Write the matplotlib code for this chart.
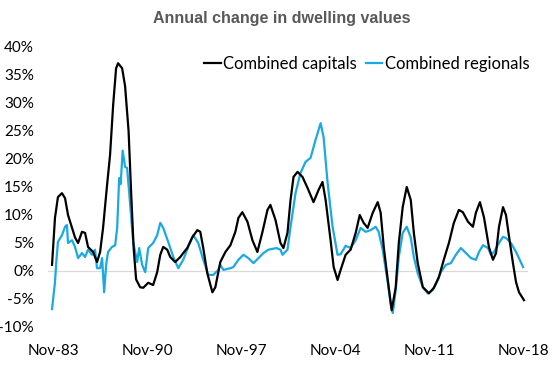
import matplotlib
matplotlib.use("Agg")
import matplotlib.pyplot as plt

# ---------------------------------------------------------------------------
# Data (decimal year, annual % change)
# ---------------------------------------------------------------------------

cap_years = [
    1983.76, 1983.98, 1984.2, 1984.5, 1984.73, 1984.95, 1985.25, 1985.47, 1985.7,
    1985.99, 1986.22, 1986.44, 1986.82, 1987.11, 1987.34, 1987.56, 1987.86, 1988.08,
    1988.31, 1988.53, 1988.68, 1988.98, 1989.2, 1989.46, 1989.65, 1989.84, 1990.02,
    1990.32, 1990.55, 1990.92, 1991.29, 1991.59, 1991.82, 1992.04, 1992.34, 1992.56,
    1992.93, 1993.31, 1993.53, 1993.83, 1994.2, 1994.58, 1994.8, 1995.02, 1995.32,
    1995.7, 1995.92, 1996.29, 1996.67, 1997.04, 1997.41, 1997.64, 1997.93, 1998.31,
    1998.68, 1999.05, 1999.43, 1999.8, 2000.02, 2000.4, 2000.77, 2000.99, 2001.29,
    2001.52, 2001.74, 2002.04, 2002.41, 2002.79, 2003.23, 2003.61, 2003.9, 2004.13,
    2004.5, 2004.73, 2005.02, 2005.25, 2005.62, 2005.99, 2006.37, 2006.67, 2006.96,
    2007.26, 2007.64, 2008.01, 2008.23, 2008.46, 2008.76, 2009.05, 2009.35, 2009.58,
    2009.87, 2010.17, 2010.47, 2010.7, 2010.99, 2011.37, 2011.67, 2011.82, 2012.19,
    2012.56, 2012.93, 2013.31, 2013.68, 2014.05, 2014.35, 2014.73, 2015.1, 2015.32,
    2015.62, 2015.92, 2016.29, 2016.59, 2016.82, 2017.04, 2017.34, 2017.56, 2017.79,
    2018.08, 2018.31, 2018.53, 2018.9,
]
cap_values = [
    1.1, 9.5, 13.2, 13.9, 13.0, 10.0, 7.7, 6.0, 5.0,
    7.0, 6.8, 4.3, 3.4, 1.6, 3.4, 7.7, 15.4, 20.7,
    29.6, 36.2, 37.1, 36.2, 33.0, 25.0, 14.0, 4.0, -1.5,
    -2.9, -3.0, -2.1, -2.5, -0.2, 2.9, 4.3, 3.8, 2.5,
    1.6, 2.5, 3.2, 4.1, 6.0, 7.3, 7.0, 4.1, -0.4,
    -3.8, -2.9, 1.6, 3.4, 4.6, 7.0, 9.5, 10.5, 8.8,
    5.5, 3.4, 7.0, 10.9, 11.8, 9.1, 5.0, 4.1, 6.8,
    12.7, 16.8, 17.7, 16.8, 14.8, 12.3, 14.5, 15.9, 12.7,
    5.5, 0.7, -1.6, 0.2, 2.9, 3.8, 6.8, 10.0, 8.6,
    7.7, 10.4, 12.3, 10.4, 4.3, -1.6, -7.0, -2.9, 5.0,
    11.4, 15.0, 12.7, 6.8, 1.4, -2.9, -3.6, -4.0, -3.0,
    -1.1, 2.0, 5.0, 8.6, 10.9, 10.5, 8.8, 7.9, 10.4,
    12.3, 9.6, 4.3, 2.0, 3.2, 7.9, 11.4, 10.0, 6.1,
    1.4, -2.0, -3.8, -5.2,
]

reg_years = [
    1983.76, 1983.98, 1984.09, 1984.2, 1984.5, 1984.73, 1984.87, 1984.95, 1985.25,
    1985.47, 1985.7, 1985.99, 1986.22, 1986.44, 1986.74, 1986.96, 1987.11, 1987.34,
    1987.49, 1987.64, 1987.79, 1987.93, 1988.23, 1988.46, 1988.61, 1988.76, 1988.87,
    1989.02, 1989.2, 1989.35, 1989.58, 1989.8, 1990.1, 1990.25, 1990.47, 1990.7,
    1990.92, 1991.29, 1991.59, 1991.82, 1992.04, 1992.41, 1992.79, 1993.16, 1993.53,
    1993.9, 1994.28, 1994.65, 1995.02, 1995.4, 1995.77, 1996.14, 1996.29, 1996.52,
    1997.04, 1997.26, 1997.64, 1998.01, 1998.38, 1998.76, 1999.13, 1999.5, 1999.87,
    2000.47, 2000.77, 2000.92, 2001.29, 2001.52, 2001.89, 2002.26, 2002.64, 2003.01,
    2003.38, 2003.76, 2003.98, 2004.28, 2004.65, 2005.02, 2005.25, 2005.62, 2005.99,
    2006.37, 2006.74, 2007.11, 2007.49, 2007.86, 2008.08, 2008.38, 2008.76, 2008.98,
    2009.13, 2009.35, 2009.58, 2009.87, 2010.17, 2010.47, 2010.7, 2010.99, 2011.37,
    2011.74, 2012.11, 2012.49, 2012.71, 2013.08, 2013.46, 2013.83, 2014.2, 2014.58,
    2014.96, 2015.32, 2015.55, 2015.85, 2016.22, 2016.44, 2016.67, 2017.04, 2017.34,
    2017.56, 2017.93, 2018.31, 2018.53, 2018.83,
]
reg_values = [
    -6.8, -2.0, 2.0, 5.2, 6.4, 7.9, 8.2, 5.0, 5.5,
    4.3, 2.3, 3.2, 2.5, 3.8, 2.9, 3.8, 0.5, 0.5,
    2.3, -3.8, 1.1, 3.4, 4.3, 4.6, 7.7, 16.6, 15.5,
    21.5, 18.6, 18.4, 11.8, 5.2, 1.6, 4.1, 1.1, -0.2,
    4.1, 5.0, 6.4, 8.6, 7.7, 5.2, 2.5, 0.5, 2.0,
    4.3, 6.4, 5.0, 2.0, -0.7, -0.7, 0.2, 1.1, 0.2,
    0.5, 0.7, 2.0, 2.9, 2.3, 1.4, 2.3, 3.2, 3.8,
    4.1, 3.8, 2.9, 3.8, 7.9, 13.9, 17.5, 19.5, 20.2,
    23.4, 26.4, 23.9, 15.7, 7.9, 2.9, 3.0, 4.5, 4.1,
    5.5, 7.7, 7.0, 7.3, 7.9, 7.0, 3.8, -2.1, -6.0,
    -7.5, -3.4, 2.5, 6.8, 7.9, 6.0, 2.5, -0.4, -2.9,
    -4.0, -3.4, -1.6, -0.2, 1.1, 1.4, 2.9, 4.1, 3.2,
    2.3, 2.0, 3.4, 4.6, 4.1, 2.9, 3.4, 5.0, 6.1,
    5.9, 5.0, 3.4, 2.3, 0.7,
]

tick_years = [1983.83, 1990.83, 1997.83, 2004.83, 2011.83, 2018.83]
tick_labels = ["Nov-83", "Nov-90", "Nov-97", "Nov-04", "Nov-11", "Nov-18"]
y_ticks = [-10, -5, 0, 5, 10, 15, 20, 25, 30, 35, 40]

BLUE = "#1BA9E1"

# ---------------------------------------------------------------------------
# Figure
# ---------------------------------------------------------------------------

plt.rcParams["font.family"] = ["Lato", "DejaVu Sans"]

fig = plt.figure(figsize=(5.52, 3.69), dpi=100)
ax = fig.add_axes([48 / 552, 42 / 369, 480 / 552, 280 / 369])

ax.axhline(0, color="#D9D9D9", lw=0.9, zorder=1)
ax.plot(cap_years, cap_values, color="black", lw=1.6, label="Combined capitals", zorder=3)
ax.plot(reg_years, reg_values, color=BLUE, lw=1.6, label="Combined regionals", zorder=2)

ax.set_xlim(1983.46, 2019.2)
ax.set_ylim(-10, 40)
ax.set_xticks(tick_years)
ax.set_xticklabels(tick_labels)
ax.set_yticks(y_ticks)
ax.set_yticklabels([f"{v}%" for v in y_ticks])
ax.tick_params(axis="both", length=0, labelsize=11, colors="black")
ax.tick_params(axis="y", pad=10)
ax.tick_params(axis="x", pad=12)
for s in ax.spines.values():
    s.set_visible(False)

fig.text(0.51, 1 - 18 / 369, "Annual change in dwelling values", ha="center", va="center",
         fontsize=11.5, fontweight="bold", color="#595959", family="Liberation Sans")

fig.legend(loc="center right", bbox_to_anchor=(536 / 552, 1 - 64 / 369), ncol=2,
           frameon=False, fontsize=12, handlelength=1.0, handletextpad=0.15,
           columnspacing=0.5, borderaxespad=0)

fig.savefig("out.png", dpi=100)
